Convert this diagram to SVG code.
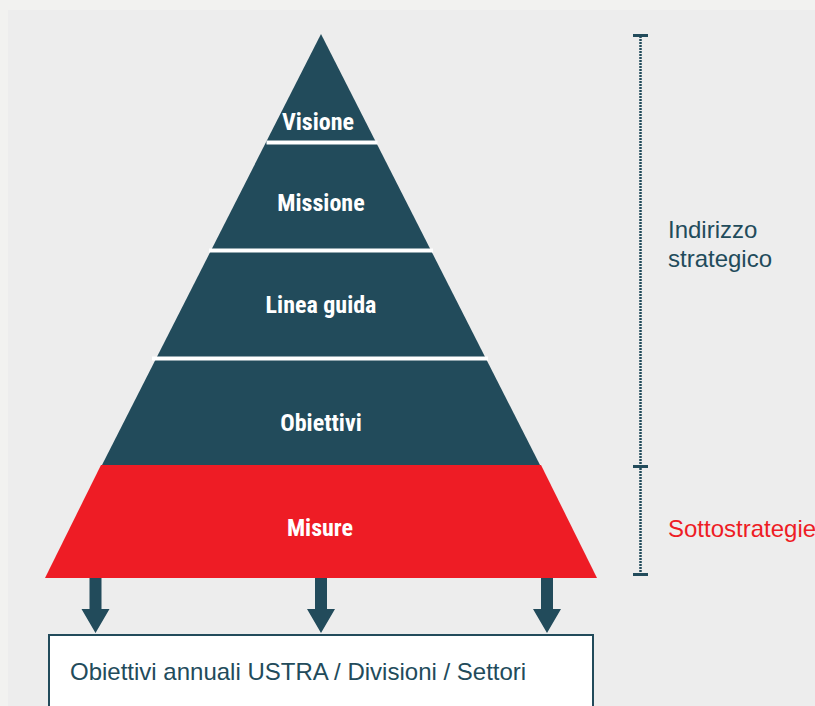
<svg xmlns="http://www.w3.org/2000/svg" width="815" height="706" viewBox="0 0 815 706">
<style>
.lbl{font-family:"Liberation Sans Narrow","Roboto Condensed","Liberation Sans",Arial,sans-serif;font-weight:bold;font-size:24px;fill:#ffffff;text-anchor:middle}
.side{font-family:"Liberation Sans",Arial,sans-serif;font-size:24px}
.dark{fill:#224b5b}
.sep{fill:#ffffff}
.arrow{fill:#224b5b}
.cap{fill:#224b5b}
</style>
<defs>
<path id="arr" d="M-6,0 H6 V31 H14 L0,55 L-14,31 H-6 Z"/>
</defs>
<rect x="0" y="0" width="815" height="706" fill="#f2f2f0"/>
<rect x="8" y="10" width="807" height="696" fill="#ededed"/>

<g id="connectors">
<use href="#arr" class="arrow" x="95.5" y="578"/>
<use href="#arr" class="arrow" x="321" y="578"/>
<use href="#arr" class="arrow" x="547" y="578"/>
</g>

<g id="pyramid-dark">
<polygon class="dark" points="321,34 102,465 540,465"/>
</g>
<g id="visione">
<text class="lbl" x="318" y="130">Visione</text>
</g>
<rect class="sep" x="266.5" y="140.5" width="111" height="4"/>
<g id="missione">
<text class="lbl" x="321" y="211">Missione</text>
</g>
<rect class="sep" x="209" y="248.5" width="224" height="4"/>
<g id="linea-guida">
<text class="lbl" x="321" y="313">Linea guida</text>
</g>
<rect class="sep" x="152" y="356.5" width="336" height="4"/>
<g id="obiettivi">
<text class="lbl" x="321" y="431">Obiettivi</text>
</g>
<g id="misure">
<polygon fill="#ee1c25" points="101,465 541,465 597,578 45,578"/>
<text class="lbl" x="320" y="536">Misure</text>
</g>

<g id="bracket">
<line x1="640.5" y1="36" x2="640.5" y2="574" stroke="#224b5b" stroke-width="2.5" stroke-dasharray="2,1"/>
<rect class="cap" x="633" y="34" width="15" height="3"/>
<rect class="cap" x="633" y="465" width="15" height="3"/>
<rect class="cap" x="633" y="573" width="15" height="3"/>
</g>
<g id="indirizzo">
<text class="side" fill="#224b5b" x="668" y="238">Indirizzo</text>
<text class="side" fill="#224b5b" x="668" y="266.5">strategico</text>
</g>
<g id="sottostrategie">
<text class="side" fill="#ee1c25" x="668" y="536.5">Sottostrategie</text>
</g>

<g id="obiettivi-annuali">
<rect x="49" y="635" width="544" height="80" fill="#ffffff" stroke="#224b5b" stroke-width="2"/>
<text class="side" fill="#224b5b" x="70" y="680">Obiettivi annuali USTRA / Divisioni / Settori</text>
</g>
</svg>
